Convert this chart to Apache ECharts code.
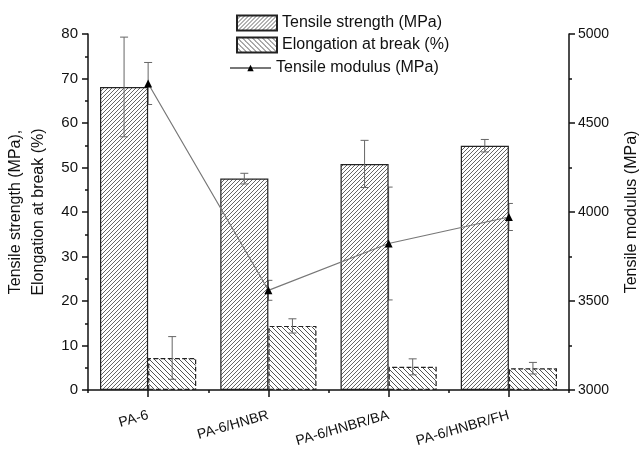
<!DOCTYPE html>
<html><head><meta charset="utf-8">
<script src="https://cdn.jsdelivr.net/npm/echarts@6/dist/echarts.min.js"></script>
<style>html,body{margin:0;padding:0;background:#fff}#c{width:642px;height:450px}</style>
</head><body><div id="c"></div>
<script>
const categories = ['PA-6', 'PA-6/HNBR', 'PA-6/HNBR/BA', 'PA-6/HNBR/FH'];
const tensileStrength = [68.1, 47.5, 50.8, 54.9];
const tensileStrengthErr = [11.2, 1.2, 5.3, 1.4];
const elongation = [7.2, 14.4, 5.2, 4.9];
const elongationErr = [4.8, 1.6, 1.8, 1.3];
const tensileModulus = [4722, 3560, 3823, 3972];
const tensileModulusErr = [118, 56, 317, 76];
const leftTicks = {min: 0, max: 80, interval: 10};
const rightTicks = {min: 3000, max: 5000, interval: 500};

const FONT = '"Liberation Sans", Arial, sans-serif';

function hatch(dir, size, color, lw) {
  const c = document.createElement('canvas');
  c.width = size; c.height = size;
  const ctx = c.getContext('2d');
  ctx.fillStyle = '#fff'; ctx.fillRect(0, 0, size, size);
  ctx.strokeStyle = color; ctx.lineWidth = lw;
  ctx.beginPath();
  if (dir === '/') {
    ctx.moveTo(0, size); ctx.lineTo(size, 0);
    ctx.moveTo(-1, 1); ctx.lineTo(1, -1);
    ctx.moveTo(size - 1, size + 1); ctx.lineTo(size + 1, size - 1);
  } else {
    ctx.moveTo(0, 0); ctx.lineTo(size, size);
    ctx.moveTo(-1, size - 1); ctx.lineTo(1, size + 1);
    ctx.moveTo(size - 1, -1); ctx.lineTo(size + 1, 1);
  }
  ctx.stroke();
  return c;
}

function errData(vals, errs) { return vals.map((v, i) => [i, v, errs[i]]); }

function errRender(shift) {
  return function (params, api) {
    const i = api.value(0), v = api.value(1), e = api.value(2);
    const band = api.size([1, 0])[0];
    const hi = api.coord([i, v + e]);
    const lo = api.coord([i, v - e]);
    const cx = hi[0] + shift * band;
    const w = 4;
    const st = {stroke: '#666', lineWidth: 1, fill: null};
    return {type: 'group', children: [
      {type: 'line', shape: {x1: cx, y1: hi[1], x2: cx, y2: lo[1]}, style: st},
      {type: 'line', shape: {x1: cx - w, y1: hi[1], x2: cx + w, y2: hi[1]}, style: st},
      {type: 'line', shape: {x1: cx - w, y1: lo[1], x2: cx + w, y2: lo[1]}, style: st}
    ]};
  };
}

const chart = echarts.init(document.getElementById('c'), null, {renderer: 'canvas'});
const axisLine = {show: true, lineStyle: {color: '#111', width: 1.5}};
const legendText = {fontSize: 16, fontFamily: FONT, color: '#111'};
chart.setOption({
  animation: false,
  backgroundColor: '#fff',
  textStyle: {fontFamily: FONT, color: '#000'},
  grid: {left: 88, right: 73, top: 34, bottom: 60, outerBoundsMode: 'none'},
  legend: [{
    orient: 'vertical', left: 236, top: 14.5, itemGap: 5, padding: 0,
    itemWidth: 40, itemHeight: 15,
    textStyle: legendText,
    data: [
      {name: 'Tensile strength (MPa)', icon: 'rect'},
      {name: 'Elongation at break (%)', icon: 'rect'}
    ]
  }, {
    orient: 'vertical', left: 229, top: 60, padding: 0,
    itemWidth: 41, itemHeight: 8,
    textStyle: legendText,
    data: [{name: 'Tensile modulus (MPa)'}]
  }],
  xAxis: [{
    type: 'category', data: categories, boundaryGap: true,
    axisLine: axisLine,
    axisTick: {show: true, alignWithLabel: true, length: 7, lineStyle: {color: '#111', width: 1.5}},
    axisLabel: {rotate: 16, margin: 25, fontSize: 14, fontFamily: FONT, color: '#111'},
    splitLine: {show: false}
  }, {
    type: 'value', min: 0, max: 4, interval: 1, position: 'bottom',
    axisLine: {show: false}, axisLabel: {show: false}, splitLine: {show: false},
    axisTick: {show: true, length: 3, lineStyle: {color: '#111', width: 1.5}}
  }],
  yAxis: [{
    type: 'value', min: leftTicks.min, max: leftTicks.max, interval: leftTicks.interval,
    name: 'Tensile strength (MPa),\nElongation at break (%)',
    nameLocation: 'middle', nameGap: 38, nameRotate: 90, nameMoveOverlap: false,
    nameTextStyle: {fontSize: 16, fontFamily: FONT, color: '#111', lineHeight: 23},
    axisLine: axisLine,
    axisTick: {show: true, length: 6, lineStyle: {color: '#111', width: 1.5}},
    minorTick: {show: true, splitNumber: 2, length: 3, lineStyle: {color: '#111', width: 1.5}},
    axisLabel: {fontSize: 15, margin: 10, fontFamily: FONT, color: '#111'},
    splitLine: {show: false}
  }, {
    type: 'value', min: rightTicks.min, max: rightTicks.max, interval: rightTicks.interval,
    position: 'right',
    name: 'Tensile modulus (MPa)', nameLocation: 'middle', nameGap: 55, nameRotate: 90,
    nameTextStyle: {fontSize: 16, fontFamily: FONT, color: '#111'},
    axisLine: axisLine,
    axisTick: {show: true, length: 6, lineStyle: {color: '#111', width: 1.5}},
    minorTick: {show: true, splitNumber: 2, length: 3, lineStyle: {color: '#111', width: 1.5}},
    axisLabel: {fontSize: 14, margin: 9, fontFamily: FONT, color: '#111', formatter: v => String(v)},
    splitLine: {show: false}
  }],
  series: [
    {
      type: 'custom', name: 'modErr', xAxisIndex: 0, yAxisIndex: 1, z: 1,
      renderItem: errRender(0), data: errData(tensileModulus, tensileModulusErr), silent: true
    },
    {
      type: 'bar', name: 'Tensile strength (MPa)', xAxisIndex: 0, yAxisIndex: 0, z: 2,
      data: tensileStrength, barGap: '0%', barCategoryGap: '20%',
      itemStyle: {color: {image: hatch('/', 4, '#555', 0.9), repeat: 'repeat'}, borderColor: '#222', borderWidth: 1.2}
    },
    {
      type: 'bar', name: 'Elongation at break (%)', xAxisIndex: 0, yAxisIndex: 0, z: 2,
      data: elongation, barGap: '0%', barCategoryGap: '20%',
      itemStyle: {color: {image: hatch('\\', 5, '#555', 1), repeat: 'repeat'}, borderColor: '#222', borderWidth: 1.2, borderType: 'dashed'}
    },
    {
      type: 'line', name: 'Tensile modulus (MPa)', xAxisIndex: 0, yAxisIndex: 1, z: 3,
      data: tensileModulus, symbol: 'triangle', symbolSize: 8,
      lineStyle: {color: '#777', width: 1.2}, itemStyle: {color: '#000'}
    },
    {
      type: 'custom', name: 'tsErr', xAxisIndex: 0, yAxisIndex: 0, z: 4,
      renderItem: errRender(-0.2), data: errData(tensileStrength, tensileStrengthErr), silent: true
    },
    {
      type: 'custom', name: 'elErr', xAxisIndex: 0, yAxisIndex: 0, z: 4,
      renderItem: errRender(0.2), data: errData(elongation, elongationErr), silent: true
    }
  ]
});
</script></body></html>
